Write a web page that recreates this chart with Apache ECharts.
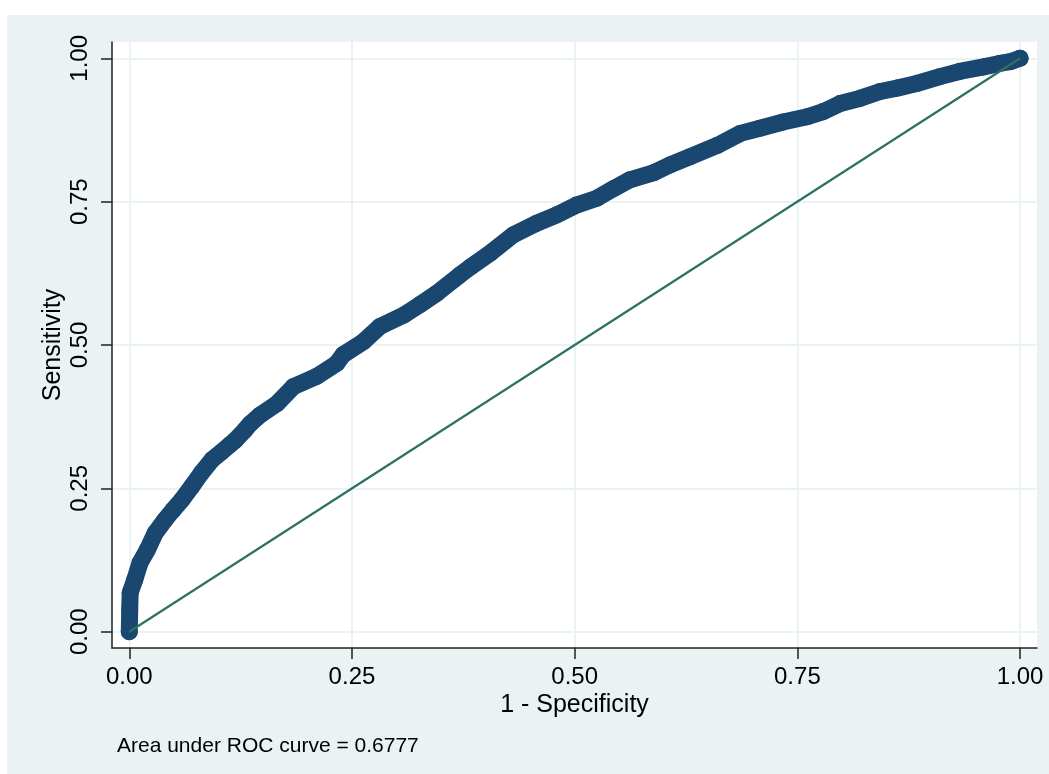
<!DOCTYPE html>
<html>
<head>
<meta charset="utf-8">
<script src="https://cdn.jsdelivr.net/npm/echarts@6/dist/echarts.min.js"></script>
<style>
html,body{margin:0;padding:0;background:#fff;}
#c{position:absolute;left:7px;top:15px;width:1042px;height:759px;background:#EAF2F3;}
</style>
</head>
<body>
<div id="c"></div>
<script>
const fpr = [0, 0.0005, 0.001, 0.006, 0.012, 0.02, 0.029, 0.04, 0.049, 0.059, 0.07, 0.081, 0.093, 0.104, 0.113, 0.119, 0.13, 0.136, 0.147, 0.166, 0.184, 0.21, 0.233, 0.24, 0.263, 0.281, 0.308, 0.326, 0.345, 0.371, 0.383, 0.405, 0.431, 0.457, 0.48, 0.502, 0.525, 0.544, 0.562, 0.588, 0.607, 0.629, 0.66, 0.686, 0.708, 0.734, 0.761, 0.779, 0.798, 0.82, 0.843, 0.862, 0.884, 0.91, 0.932, 0.959, 0.977, 0.989, 1];
const tpr = [0, 0.04, 0.068, 0.09, 0.12, 0.142, 0.172, 0.195, 0.212, 0.23, 0.253, 0.277, 0.30, 0.314, 0.326, 0.334, 0.352, 0.363, 0.378, 0.398, 0.427, 0.445, 0.468, 0.483, 0.506, 0.532, 0.552, 0.57, 0.59, 0.622, 0.636, 0.66, 0.692, 0.712, 0.727, 0.744, 0.756, 0.773, 0.788, 0.8, 0.814, 0.828, 0.848, 0.869, 0.878, 0.889, 0.898, 0.907, 0.921, 0.93, 0.942, 0.948, 0.956, 0.968, 0.977, 0.985, 0.991, 0.994, 1];
const refX = [0, 1];
const refY = [0, 1];
const tickValues = [0, 0.25, 0.5, 0.75, 1];
const xTitle = '1 - Specificity';
const yTitle = 'Sensitivity';
const note = 'Area under ROC curve = 0.6777';

const font = 'Liberation Sans, Arial, Helvetica, sans-serif';
const axisColor = '#222';
const chart = echarts.init(document.getElementById('c'));
chart.setOption({
  animation: false,
  grid: {left: 105, top: 27, right: 12, bottom: 126, show: true, backgroundColor: '#fff', borderWidth: 0},
  xAxis: {
    type: 'value', min: -0.0194, max: 1.019,
    name: xTitle, nameLocation: 'middle', nameGap: 45, nameMoveOverlap: false,
    nameTextStyle: {fontFamily: font, fontSize: 25, color: '#000'},
    axisLine: {show: true, onZero: false, lineStyle: {color: axisColor, width: 1.5}},
    axisTick: {show: true, length: 11, customValues: tickValues, lineStyle: {color: axisColor, width: 1.5}},
    axisLabel: {customValues: tickValues, margin: 17, fontFamily: font, fontSize: 24, color: '#000', formatter: v => v.toFixed(2)},
    splitLine: {show: true, lineStyle: {color: '#EAF2F3', width: 2}}
  },
  yAxis: {
    type: 'value', min: -0.0284, max: 1.0284,
    name: yTitle, nameLocation: 'middle', nameGap: 46, nameMoveOverlap: false,
    nameTextStyle: {fontFamily: font, fontSize: 25, color: '#000'},
    axisLine: {show: true, onZero: false, lineStyle: {color: axisColor, width: 1.5}},
    axisTick: {show: true, length: 11, customValues: tickValues, lineStyle: {color: axisColor, width: 1.5}},
    axisLabel: {customValues: tickValues, rotate: 90, margin: 20, fontFamily: font, fontSize: 24, color: '#000', formatter: v => v.toFixed(2)},
    splitLine: {show: true, lineStyle: {color: '#EAF2F3', width: 2}}
  },
  series: [
    {
      type: 'line', data: fpr.map((x, i) => [x, tpr[i]]),
      symbol: 'circle', symbolSize: 17, showAllSymbol: true,
      itemStyle: {color: '#1A476F'},
      lineStyle: {color: '#1A476F', width: 17, cap: 'round', join: 'round'},
      z: 2
    },
    {
      type: 'line', data: refX.map((x, i) => [x, refY[i]]),
      symbol: 'none', lineStyle: {color: '#2E7064', width: 2.2}, z: 3
    }
  ],
  graphic: [{
    type: 'text', left: 110, top: 721,
    style: {text: note, fontFamily: font, fontSize: 21, fill: '#000'}
  }]
});
</script>
</body>
</html>
